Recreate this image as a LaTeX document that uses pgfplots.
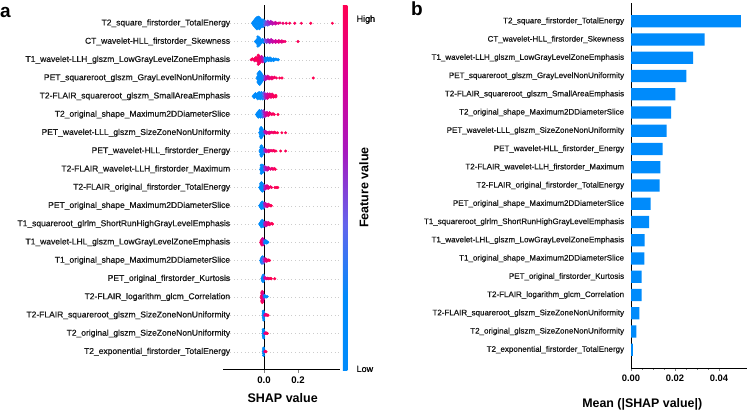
\documentclass[border=0pt]{standalone}
\usepackage{pgfplots}
\pgfplotsset{compat=1.18}
\usepackage{fontspec}
\setmainfont{Liberation Sans}
\newfontfamily\lblfont[FakeBold=0.7]{Liberation Sans}

\definecolor{shapblue}{RGB}{0,139,251}
\pgfplotsset{
  colormap={shap}{rgb255=(0,139,251) rgb255=(0,139,251) rgb255=(100,100,236) rgb255=(168,24,190) rgb255=(218,0,148) rgb255=(255,0,82)},
  swarm/.style={scatter, only marks, mark=*, mark size=1.3bp, point meta=explicit,
    scatter/use mapped color={draw=mapped color, fill=mapped color}},
  featlabels/.style={yticklabels={
    T2\_exponential\_firstorder\_TotalEnergy,
    T2\_original\_glszm\_SizeZoneNonUniformity,
    T2-FLAIR\_squareroot\_glszm\_SizeZoneNonUniformity,
    T2-FLAIR\_logarithm\_glcm\_Correlation,
    PET\_original\_firstorder\_Kurtosis,
    T1\_original\_shape\_Maximum2DDiameterSlice,
    T1\_wavelet-LHL\_glszm\_LowGrayLevelZoneEmphasis,
    T1\_squareroot\_glrlm\_ShortRunHighGrayLevelEmphasis,
    PET\_original\_shape\_Maximum2DDiameterSlice,
    T2-FLAIR\_original\_firstorder\_TotalEnergy,
    T2-FLAIR\_wavelet-LLH\_firstorder\_Maximum,
    PET\_wavelet-HLL\_firstorder\_Energy,
    PET\_wavelet-LLL\_glszm\_SizeZoneNonUniformity,
    T2\_original\_shape\_Maximum2DDiameterSlice,
    T2-FLAIR\_squareroot\_glszm\_SmallAreaEmphasis,
    PET\_squareroot\_glszm\_GrayLevelNonUniformity,
    T1\_wavelet-LLH\_glszm\_LowGrayLevelZoneEmphasis,
    CT\_wavelet-HLL\_firstorder\_Skewness,
    T2\_square\_firstorder\_TotalEnergy}},
}

\begin{document}
\begin{tikzpicture}
\path[use as bounding box] (0,0) rectangle (748bp,412bp);

% ---------------- panel a: SHAP summary (beeswarm) ----------------
\begin{axis}[
  at={(223bp,42bp)}, anchor=south west,
  scale only axis, width=117bp, height=365bp,
  xmin=-0.241, xmax=0.447, ymin=-1, ymax=19,
  axis x line*=bottom, axis y line*=left,
  x axis line style={line width=1bp},
  y axis line style={draw=none},
  xtick={0,0.2}, xticklabels={0.0,0.2},
  xticklabel style={font=\fontsize{9.6bp}{11bp}\selectfont\bfseries},
  tick align=outside, major tick length=3bp,
  xtick style={line width=0.8bp},
  ytick style={draw=none},
  ytick={0,...,18}, featlabels,
  yticklabel style={font=\lblfont\fontsize{8.5bp}{10bp}\selectfont, text=black!90, inner sep=0pt, anchor=east, xshift=10.3bp},
  ymajorgrids, grid style={draw=black!20, line width=0.4bp, dash pattern=on 0.6bp off 3bp},
  xlabel={SHAP value},
  xlabel style={font=\fontsize{12.5bp}{14bp}\selectfont\bfseries, at={(axis description cs:0.51,-0.077)}, anchor=center},
  colormap name=shap, point meta min=0, point meta max=1,
  colorbar,
  colorbar style={
    at={(parent axis.north east)}, anchor=north west, xshift=-5.7bp,
    scale only axis, width=4.6bp, height=365bp,
    axis line style={draw=none},
    xtick=\empty,
    ytick={0.003,0.96}, yticklabels={Low,High},
    ytick style={draw=none},
    yticklabel pos=right,
    yticklabel style={font=\lblfont\fontsize{9bp}{10bp}\selectfont, inner sep=0pt, anchor=west, xshift=9bp},
    ylabel={Feature value},
    ylabel style={font=\fontsize{12.5bp}{14bp}\selectfont\bfseries, at={(axis description cs:4.6,0.5)}, anchor=center},
  },
]
% row 1: T2_square_firstorder_TotalEnergy
\addplot[swarm] table[x=x, y expr=18+\thisrow{d}, meta=c, row sep=\\]{
x d c\\
-0.068 0 0.05\\ -0.062 0.08 0.02\\ -0.062 -0.08 0.1\\ -0.055 0 0.0\\ -0.055 0.16 0.05\\ -0.055 -0.16 0.08\\
-0.048 0.08 0.0\\ -0.048 -0.08 0.03\\ -0.048 0.24 0.1\\ -0.048 -0.24 0.06\\ -0.041 0 0.02\\ -0.041 0.16 0.0\\
-0.041 -0.16 0.04\\ -0.041 0.3 0.08\\ -0.041 -0.3 0.05\\ -0.034 0.08 0.01\\ -0.034 -0.08 0.0\\ -0.034 0.24 0.07\\
-0.034 -0.24 0.03\\ -0.034 0.33 0.12\\ -0.027 0 0.05\\ -0.027 0.16 0.02\\ -0.027 -0.16 0.0\\ -0.027 0.3 0.1\\
-0.027 -0.3 0.04\\ -0.020 0.08 0.06\\ -0.020 -0.08 0.03\\ -0.020 0.22 0.12\\ -0.020 -0.22 0.08\\ -0.013 0 0.1\\
-0.013 0.14 0.15\\ -0.013 -0.14 0.07\\ -0.006 0.07 0.18\\ -0.006 -0.07 0.12\\ -0.006 0.18 0.2\\ -0.006 -0.18 0.1\\
0.004 0 0.35\\ 0.004 0.12 0.3\\ 0.004 -0.12 0.4\\ 0.013 0.06 0.45\\ 0.013 -0.06 0.5\\ 0.022 0 0.5\\
0.022 0.11 0.55\\ 0.022 -0.1 0.45\\ 0.031 0.05 0.6\\ 0.031 -0.05 0.55\\ 0.040 0 0.62\\ 0.040 0.1 0.6\\
0.049 0.05 0.68\\ 0.049 -0.05 0.65\\ 0.058 0 0.7\\ 0.067 0.05 0.75\\ 0.067 -0.04 0.72\\ 0.076 0 0.8\\
0.085 0 0.82\\ 0.094 0.02 0.88\\ 0.112 0 0.92\\ 0.131 0 0.95\\ 0.151 0 0.97\\ 0.181 0 0.97\\
0.220 0 0.98\\ 0.275 0 1.0\\ 0.402 0 1.0\\
};
% row 2: CT_wavelet-HLL_firstorder_Skewness
\addplot[swarm] table[x=x, y expr=17+\thisrow{d}, meta=c, row sep=\\]{
x d c\\
-0.050 0 0.05\\ -0.043 0.07 0.02\\ -0.043 -0.07 0.0\\ -0.036 0 0.03\\ -0.036 0.14 0.05\\ -0.036 -0.14 0.0\\
-0.036 0.25 0.08\\ -0.036 -0.25 0.04\\ -0.029 0.07 0.02\\ -0.029 -0.07 0.06\\ -0.029 0.2 0.1\\ -0.029 -0.2 0.03\\
-0.022 0 0.05\\ -0.022 0.12 0.08\\ -0.022 -0.12 0.1\\ -0.015 0.06 0.12\\ -0.015 -0.06 0.07\\ -0.008 0 0.15\\
-0.008 0.1 0.1\\ -0.002 0.05 0.2\\ -0.002 -0.05 0.18\\
0.006 0 0.4\\ 0.006 0.1 0.45\\ 0.015 0.05 0.5\\ 0.015 -0.05 0.48\\ 0.024 0 0.55\\ 0.024 0.1 0.6\\
0.033 0.05 0.62\\ 0.033 -0.06 0.6\\ 0.042 0 0.65\\ 0.042 0.1 0.68\\ 0.051 0.05 0.7\\ 0.051 -0.05 0.72\\
0.060 0 0.75\\ 0.069 0.05 0.78\\ 0.069 -0.05 0.76\\ 0.078 0 0.8\\ 0.087 0.05 0.82\\ 0.087 -0.04 0.84\\
0.096 0 0.86\\ 0.105 0.04 0.88\\ 0.105 -0.04 0.86\\ 0.114 0 0.9\\ 0.124 0 0.93\\ 0.200 0 0.98\\
};
% row 3: T1_wavelet-LLH_glszm_LowGrayLevelZoneEmphasis
\addplot[swarm] table[x=x, y expr=16+\thisrow{d}, meta=c, row sep=\\]{
x d c\\
-0.075 0 0.95\\ -0.068 0.05 1.0\\ -0.061 0 0.95\\ -0.054 0.06 0.98\\ -0.054 -0.06 0.92\\ -0.047 0 1.0\\
-0.047 0.12 0.95\\ -0.040 0.06 0.97\\ -0.040 -0.06 1.0\\ -0.034 0 0.95\\ -0.034 0.13 1.0\\ -0.034 -0.13 0.92\\
-0.034 0.25 0.98\\ -0.034 -0.25 0.94\\ -0.028 0.06 0.9\\ -0.028 -0.06 1.0\\ -0.028 0.19 0.95\\ -0.028 -0.19 0.97\\
-0.021 0 0.9\\ -0.021 0.12 0.85\\ -0.021 -0.12 0.93\\ -0.014 0.06 0.8\\ -0.014 -0.06 0.88\\ -0.014 0.17 0.75\\
-0.007 0 0.7\\ -0.007 0.11 0.6\\ -0.007 -0.11 0.78\\ 0.000 0.05 0.5\\ 0.000 -0.05 0.55\\
0.007 0 0.3\\ 0.007 0.1 0.2\\ 0.007 -0.1 0.25\\ 0.014 0.05 0.15\\ 0.014 -0.05 0.1\\ 0.021 0 0.12\\
0.021 0.1 0.05\\ 0.028 0.05 0.08\\ 0.028 -0.05 0.0\\ 0.035 0 0.05\\ 0.035 0.1 0.02\\ 0.042 0.05 0.0\\
0.042 -0.05 0.05\\ 0.049 0 0.0\\ 0.056 0.05 0.03\\ 0.056 -0.04 0.0\\ 0.063 0 0.02\\ 0.070 0.04 0.0\\
0.077 0 0.0\\ 0.084 0 0.04\\
};
% row 4: PET_squareroot_glszm_GrayLevelNonUniformity
\addplot[swarm] table[x=x, y expr=15+\thisrow{d}, meta=c, row sep=\\]{
x d c\\
-0.040 0 0.05\\ -0.035 0.08 0.02\\ -0.035 -0.08 0.0\\ -0.035 0.22 0.06\\ -0.035 -0.22 0.04\\ -0.030 0 0.03\\
-0.030 0.15 0.0\\ -0.030 -0.15 0.05\\ -0.030 0.3 0.08\\ -0.030 -0.3 0.02\\ -0.025 0.08 0.06\\ -0.025 -0.08 0.0\\
-0.025 0.22 0.1\\ -0.025 -0.22 0.03\\ -0.025 0.35 0.05\\ -0.025 -0.35 0.07\\ -0.020 0 0.08\\ -0.020 0.15 0.04\\
-0.020 -0.15 0.1\\ -0.020 0.28 0.12\\ -0.020 -0.28 0.06\\ -0.014 0.07 0.1\\ -0.014 -0.07 0.14\\ -0.014 0.2 0.15\\
-0.014 -0.2 0.08\\ -0.008 0 0.2\\ -0.008 0.12 0.25\\ -0.008 -0.12 0.18\\ -0.002 0.06 0.3\\ -0.002 -0.06 0.28\\
0.006 0 0.5\\ 0.006 0.1 0.55\\ 0.006 -0.1 0.6\\ 0.014 0.05 0.65\\ 0.014 -0.05 0.7\\ 0.022 0 0.75\\
0.022 0.1 0.8\\ 0.030 0.05 0.82\\ 0.030 -0.05 0.85\\ 0.038 0 0.88\\ 0.046 0.05 0.9\\ 0.046 -0.05 0.92\\
0.054 0 0.93\\ 0.062 0.04 0.95\\ 0.073 0 0.97\\ 0.092 0 0.98\\ 0.106 0 1.0\\ 0.290 0 1.0\\
};
% row 5: T2-FLAIR_squareroot_glszm_SmallAreaEmphasis
\addplot[swarm] table[x=x, y expr=14+\thisrow{d}, meta=c, row sep=\\]{
x d c\\
-0.064 0 0.05\\ -0.057 0.07 0.0\\ -0.057 -0.07 0.03\\ -0.050 0 0.02\\ -0.050 0.14 0.06\\ -0.043 0.07 0.0\\
-0.043 -0.07 0.04\\ -0.036 0 0.03\\ -0.036 0.14 0.0\\ -0.036 -0.14 0.08\\ -0.029 0.07 0.05\\ -0.029 -0.07 0.02\\
-0.029 0.2 0.1\\ -0.022 0 0.1\\ -0.022 0.14 0.12\\ -0.022 -0.14 0.06\\ -0.015 0.07 0.15\\ -0.015 -0.07 0.2\\
-0.015 0.2 0.12\\ -0.008 0 0.25\\ -0.008 0.14 0.3\\ -0.008 -0.14 0.22\\ -0.001 0.07 0.4\\ -0.001 -0.07 0.35\\
-0.001 0.2 0.38\\
0.006 0 0.55\\ 0.006 0.13 0.6\\ 0.006 -0.13 0.5\\ 0.013 0.07 0.65\\ 0.013 -0.07 0.7\\ 0.020 0 0.75\\
0.020 0.13 0.72\\ 0.020 -0.12 0.8\\ 0.027 0.06 0.82\\ 0.027 -0.06 0.85\\ 0.034 0 0.88\\ 0.034 0.12 0.86\\
0.041 0.06 0.9\\ 0.041 -0.06 0.92\\ 0.048 0 0.93\\ 0.048 0.12 0.95\\ 0.055 0.05 0.95\\ 0.055 -0.05 0.97\\
0.062 0 0.98\\ 0.070 0.05 1.0\\ 0.070 -0.04 0.98\\
};
% row 6: T2_original_shape_Maximum2DDiameterSlice
\addplot[swarm] table[x=x, y expr=13+\thisrow{d}, meta=c, row sep=\\]{
x d c\\
-0.045 0 0.05\\ -0.039 0.07 0.02\\ -0.039 -0.07 0.0\\ -0.033 0 0.04\\ -0.033 0.14 0.06\\ -0.033 -0.14 0.0\\
-0.027 0.07 0.1\\ -0.027 -0.07 0.05\\ -0.027 0.21 0.03\\ -0.021 0 0.08\\ -0.021 0.14 0.12\\ -0.021 -0.14 0.15\\
-0.015 0.07 0.2\\ -0.015 -0.07 0.15\\ -0.015 0.21 0.25\\ -0.009 0 0.3\\ -0.009 0.14 0.35\\ -0.009 -0.14 0.28\\
-0.003 0.07 0.45\\ -0.003 -0.07 0.4\\ -0.003 0.2 0.5\\
0.004 0 0.6\\ 0.004 0.12 0.65\\ 0.004 -0.12 0.55\\ 0.011 0.06 0.7\\ 0.011 -0.06 0.75\\ 0.018 0 0.8\\
0.018 0.11 0.78\\ 0.025 0.05 0.85\\ 0.025 -0.06 0.88\\ 0.032 0 0.9\\ 0.032 0.1 0.92\\ 0.039 0.05 0.93\\
0.046 0 0.95\\ 0.053 0.04 0.97\\ 0.060 0 0.98\\ 0.082 0 1.0\\
};
% row 7: PET_wavelet-LLL_glszm_SizeZoneNonUniformity
\addplot[swarm] table[x=x, y expr=12+\thisrow{d}, meta=c, row sep=\\]{
x d c\\
-0.025 0 0.05\\ -0.021 0.08 0.0\\ -0.021 -0.08 0.03\\ -0.021 0.2 0.05\\ -0.021 -0.2 0.02\\ -0.017 0 0.04\\
-0.017 0.14 0.0\\ -0.017 -0.14 0.06\\ -0.017 0.28 0.08\\ -0.017 -0.28 0.03\\ -0.012 0.07 0.1\\ -0.012 -0.07 0.05\\
-0.012 0.21 0.12\\ -0.012 -0.21 0.08\\ -0.007 0 0.15\\ -0.007 0.14 0.2\\ -0.007 -0.14 0.12\\ -0.002 0.07 0.3\\
-0.002 -0.07 0.25\\
0.006 0 0.6\\ 0.006 0.08 0.65\\ 0.014 0.04 0.75\\ 0.014 -0.04 0.7\\ 0.022 0 0.82\\ 0.030 0.04 0.86\\
0.030 -0.04 0.88\\ 0.038 0 0.9\\ 0.046 0.03 0.92\\ 0.054 0 0.95\\ 0.062 0.03 0.96\\ 0.070 0 0.98\\
0.080 0 1.0\\ 0.105 0 1.0\\ 0.127 0 0.98\\
};
% row 8: PET_wavelet-HLL_firstorder_Energy
\addplot[swarm] table[x=x, y expr=11+\thisrow{d}, meta=c, row sep=\\]{
x d c\\
-0.023 0 0.04\\ -0.019 0.08 0.0\\ -0.019 -0.08 0.03\\ -0.019 0.21 0.06\\ -0.019 -0.21 0.02\\ -0.015 0 0.05\\
-0.015 0.14 0.0\\ -0.015 -0.14 0.08\\ -0.015 0.28 0.04\\ -0.015 -0.28 0.07\\ -0.010 0.07 0.1\\ -0.010 -0.07 0.06\\
-0.010 0.21 0.12\\ -0.010 -0.21 0.09\\ -0.005 0 0.2\\ -0.005 0.14 0.18\\ -0.005 -0.14 0.22\\ -0.001 0.07 0.35\\
-0.001 -0.07 0.3\\
0.006 0 0.6\\ 0.006 0.08 0.55\\ 0.013 0.04 0.7\\ 0.013 -0.04 0.72\\ 0.020 0 0.8\\ 0.027 0.04 0.84\\
0.027 -0.04 0.86\\ 0.034 0 0.9\\ 0.041 0.03 0.92\\ 0.048 0 0.94\\ 0.055 0.03 0.96\\ 0.062 0 0.97\\
0.070 0 1.0\\ 0.098 0 1.0\\ 0.127 0 0.98\\
};
% row 9: T2-FLAIR_wavelet-LLH_firstorder_Maximum
\addplot[swarm] table[x=x, y expr=10+\thisrow{d}, meta=c, row sep=\\]{
x d c\\
-0.020 0 0.05\\ -0.016 0.08 0.0\\ -0.016 -0.08 0.04\\ -0.016 0.22 0.03\\ -0.016 -0.22 0.06\\ -0.012 0 0.02\\
-0.012 0.15 0.07\\ -0.012 -0.15 0.0\\ -0.008 0.07 0.1\\ -0.008 -0.07 0.12\\ -0.008 0.22 0.08\\ -0.004 0 0.2\\
-0.004 0.14 0.25\\ -0.004 -0.14 0.18\\
0.004 0.05 0.45\\ 0.004 -0.05 0.5\\ 0.004 0.14 0.55\\ 0.011 0 0.6\\ 0.011 0.1 0.65\\ 0.018 0.05 0.7\\
0.018 -0.05 0.72\\ 0.025 0 0.78\\ 0.025 0.1 0.8\\ 0.032 0.05 0.84\\ 0.039 0 0.88\\ 0.046 0.05 0.9\\
0.053 0 0.93\\ 0.060 0.04 0.96\\ 0.066 0 1.0\\
};
% row 10: T2-FLAIR_original_firstorder_TotalEnergy
\addplot[swarm] table[x=x, y expr=9+\thisrow{d}, meta=c, row sep=\\]{
x d c\\
-0.025 0 0.05\\ -0.020 0.08 0.0\\ -0.020 -0.08 0.04\\ -0.020 0.2 0.06\\ -0.015 0 0.02\\ -0.015 0.14 0.08\\
-0.015 -0.14 0.0\\ -0.015 0.26 0.05\\ -0.010 0.07 0.1\\ -0.010 -0.07 0.06\\ -0.010 0.2 0.12\\ -0.010 -0.2 0.08\\
-0.005 0 0.18\\ -0.005 0.13 0.22\\ -0.005 -0.13 0.15\\
0.004 0 0.5\\ 0.004 0.1 0.55\\ 0.004 -0.1 0.6\\ 0.011 0.05 0.7\\ 0.011 -0.05 0.72\\ 0.018 0 0.8\\
0.018 0.1 0.82\\ 0.025 0.05 0.86\\ 0.025 -0.05 0.88\\ 0.032 0 0.9\\ 0.039 0.04 0.94\\ 0.045 0 0.96\\
0.065 0 1.0\\ 0.073 0 0.98\\ 0.081 0 1.0\\
};
% row 11: PET_original_shape_Maximum2DDiameterSlice
\addplot[swarm] table[x=x, y expr=8+\thisrow{d}, meta=c, row sep=\\]{
x d c\\
-0.025 0 0.04\\ -0.020 0.08 0.0\\ -0.020 -0.08 0.05\\ -0.015 0 0.02\\ -0.015 0.15 0.06\\ -0.015 -0.15 0.0\\
-0.010 0.07 0.1\\ -0.010 -0.07 0.05\\ -0.010 0.2 0.08\\ -0.005 0 0.2\\ -0.005 0.13 0.25\\ -0.005 -0.13 0.18\\
0.004 0.05 0.55\\ 0.004 -0.05 0.5\\ 0.004 0.14 0.6\\ 0.011 0 0.7\\ 0.011 0.1 0.72\\ 0.018 0.05 0.8\\
0.018 -0.05 0.84\\ 0.025 0 0.88\\ 0.025 0.09 0.86\\ 0.032 0.04 0.92\\ 0.038 0 0.95\\ 0.043 0 1.0\\
};
% row 12: T1_squareroot_glrlm_ShortRunHighGrayLevelEmphasis
\addplot[swarm] table[x=x, y expr=7+\thisrow{d}, meta=c, row sep=\\]{
x d c\\
-0.025 0 0.04\\ -0.020 0.08 0.0\\ -0.020 -0.08 0.05\\ -0.015 0 0.02\\ -0.015 0.15 0.06\\ -0.015 -0.15 0.0\\
-0.010 0.07 0.1\\ -0.010 -0.07 0.05\\ -0.010 0.2 0.08\\ -0.005 0 0.2\\ -0.005 0.13 0.25\\ -0.005 -0.13 0.18\\
0.004 0.05 0.55\\ 0.004 -0.05 0.6\\ 0.011 0 0.7\\ 0.011 0.1 0.72\\ 0.011 -0.1 0.68\\ 0.018 0.05 0.8\\
0.018 -0.05 0.84\\ 0.025 0 0.88\\ 0.025 0.09 0.86\\ 0.032 0.04 0.92\\ 0.032 -0.04 0.9\\ 0.039 0 0.95\\
0.045 0.03 0.97\\ 0.050 0 1.0\\
};
% row 13: T1_wavelet-LHL_glszm_LowGrayLevelZoneEmphasis
\addplot[swarm] table[x=x, y expr=6+\thisrow{d}, meta=c, row sep=\\]{
x d c\\
-0.020 0 0.95\\ -0.016 0.08 1.0\\ -0.016 -0.08 0.92\\ -0.012 0 0.98\\ -0.012 0.15 0.9\\ -0.012 -0.15 0.95\\
-0.008 0.07 0.85\\ -0.008 -0.07 0.9\\ -0.008 0.2 0.8\\ -0.004 0 0.7\\ -0.004 0.13 0.6\\ -0.004 -0.13 0.75\\
0.004 0.05 0.3\\ 0.004 -0.05 0.2\\ 0.010 0 0.1\\ 0.010 0.09 0.05\\ 0.016 0.04 0.02\\ 0.016 -0.04 0.0\\
0.022 0 0.04\\
};
% row 14: T1_original_shape_Maximum2DDiameterSlice
\addplot[swarm] table[x=x, y expr=5+\thisrow{d}, meta=c, row sep=\\]{
x d c\\
-0.020 0 0.1\\ -0.016 0.08 0.05\\ -0.016 -0.08 0.15\\ -0.012 0 0.2\\ -0.012 0.15 0.1\\ -0.012 -0.15 0.3\\
-0.008 0.07 0.35\\ -0.008 -0.07 0.25\\ -0.008 0.2 0.2\\ -0.004 0 0.4\\ -0.004 0.13 0.45\\ -0.004 -0.13 0.35\\
0.004 0.05 0.65\\ 0.004 -0.05 0.7\\ 0.010 0 0.8\\ 0.010 0.09 0.85\\ 0.016 0.04 0.9\\ 0.016 -0.04 0.88\\
0.022 0 0.94\\ 0.028 0.03 0.97\\ 0.033 0 1.0\\
};
% row 15: PET_original_firstorder_Kurtosis
\addplot[swarm] table[x=x, y expr=4+\thisrow{d}, meta=c, row sep=\\]{
x d c\\
-0.012 0 0.05\\ -0.009 0.08 0.02\\ -0.009 -0.08 0.08\\ -0.006 0 0.1\\ -0.006 0.15 0.05\\ -0.006 -0.15 0.12\\
-0.003 0.07 0.2\\ -0.003 -0.07 0.15\\ -0.003 0.2 0.25\\
0.004 0 0.6\\ 0.004 0.08 0.65\\ 0.010 0.04 0.8\\ 0.016 0 0.85\\ 0.022 0.03 0.9\\ 0.028 0 0.95\\
0.036 0.02 0.98\\ 0.043 0 1.0\\ 0.063 0 1.0\\
};
% row 16: T2-FLAIR_logarithm_glcm_Correlation
\addplot[swarm] table[x=x, y expr=3+\thisrow{d}, meta=c, row sep=\\]{
x d c\\
-0.016 0 0.95\\ -0.013 0.08 1.0\\ -0.013 -0.08 0.92\\ -0.013 0.22 0.95\\ -0.013 -0.22 1.0\\ -0.010 0 0.98\\
-0.010 0.15 0.9\\ -0.010 -0.15 0.95\\ -0.010 0.3 0.92\\ -0.010 -0.3 1.0\\ -0.007 0.07 0.88\\ -0.007 -0.07 0.95\\
-0.007 0.22 0.85\\ -0.007 -0.22 0.9\\ -0.004 0 0.8\\ -0.004 0.14 0.75\\ -0.004 -0.14 0.85\\ -0.001 0.07 0.6\\
-0.001 -0.07 0.7\\
0.004 0 0.2\\ 0.004 0.08 0.1\\ 0.009 0.04 0.05\\ 0.014 0 0.0\\ 0.019 0.02 0.03\\
};
% row 17: T2-FLAIR_squareroot_glszm_SizeZoneNonUniformity
\addplot[swarm] table[x=x, y expr=2+\thisrow{d}, meta=c, row sep=\\]{
x d c\\
-0.006 0 0.05\\ -0.004 0.1 0.02\\ -0.004 -0.1 0.08\\ -0.004 0.22 0.05\\ -0.002 0 0.1\\ -0.002 0.16 0.15\\
-0.002 -0.16 0.12\\ -0.002 -0.26 0.08\\
0.004 0 0.7\\ 0.008 0.05 0.8\\ 0.012 0 0.85\\ 0.016 0.03 0.9\\ 0.020 0 0.95\\ 0.024 0 1.0\\
};
% row 18: T2_original_glszm_SizeZoneNonUniformity
\addplot[swarm] table[x=x, y expr=1+\thisrow{d}, meta=c, row sep=\\]{
x d c\\
-0.006 0 0.05\\ -0.004 0.1 0.02\\ -0.004 -0.1 0.08\\ -0.004 0.22 0.05\\ -0.002 0 0.1\\ -0.002 0.16 0.15\\
-0.002 -0.16 0.12\\ -0.002 -0.24 0.08\\
0.004 0 0.7\\ 0.008 0.04 0.8\\ 0.012 0 0.88\\ 0.016 0.03 0.92\\ 0.020 0 1.0\\
};
% row 19: T2_exponential_firstorder_TotalEnergy
\addplot[swarm] table[x=x, y expr=0+\thisrow{d}, meta=c, row sep=\\]{
x d c\\
-0.004 0 0.05\\ -0.003 0.1 0.08\\ -0.003 -0.1 0.02\\ -0.002 0.2 0.1\\ -0.002 -0.2 0.06\\ -0.001 0 0.12\\
0.004 0 0.7\\ 0.008 0.03 0.85\\ 0.012 0 1.0\\
};
% zero reference line
\addplot[black, line width=0.9bp] coordinates {(0,-1) (0,19)};
\end{axis}

% ---------------- panel b: mean |SHAP| ----------------
\begin{axis}[
  at={(631bp,44bp)}, anchor=south west,
  scale only axis, width=116bp, height=365bp,
  xmin=0, xmax=0.0527, ymin=-1, ymax=19,
  axis lines*=left,
  axis line style={line width=0.8bp},
  xbar, bar width=0.68,
  scaled x ticks=false,
  xtick={0,0.02,0.04}, xticklabels={0.00,0.02,0.04},
  minor x tick num=3,
  xticklabel style={font=\fontsize{9.4bp}{11bp}\selectfont\bfseries},
  tick align=outside, major tick length=3bp, minor tick length=1.8bp,
  xtick style={line width=0.6bp},
  ytick style={draw=none},
  ytick={0,...,18}, featlabels,
  yticklabel style={font=\lblfont\fontsize{8bp}{9.5bp}\selectfont, text=black!90, inner sep=0pt, anchor=east, xshift=-3.7bp},
  xlabel={Mean (|SHAP value|)},
  xlabel style={font=\fontsize{12.4bp}{14bp}\selectfont\bfseries, at={(axis description cs:0.097,-0.0995)}, anchor=center},
]
\addplot[fill=shapblue, draw=none] coordinates {
(0.0499,18) (0.0335,17) (0.0282,16) (0.0251,15) (0.0201,14) (0.0182,13) (0.0162,12)
(0.0144,11) (0.0133,10) (0.0130,9) (0.0089,8) (0.0082,7) (0.0062,6) (0.0061,5)
(0.0048,4) (0.0048,3) (0.0038,2) (0.0024,1) (0.0008,0)};
\end{axis}

% panel letters
\node[anchor=west, inner sep=0pt, font=\fontsize{19bp}{20bp}\selectfont\bfseries] at (0bp,400bp) {a};
\node[anchor=west, inner sep=0pt, font=\fontsize{19bp}{20bp}\selectfont\bfseries] at (411bp,403bp) {b};
\end{tikzpicture}
\end{document}
